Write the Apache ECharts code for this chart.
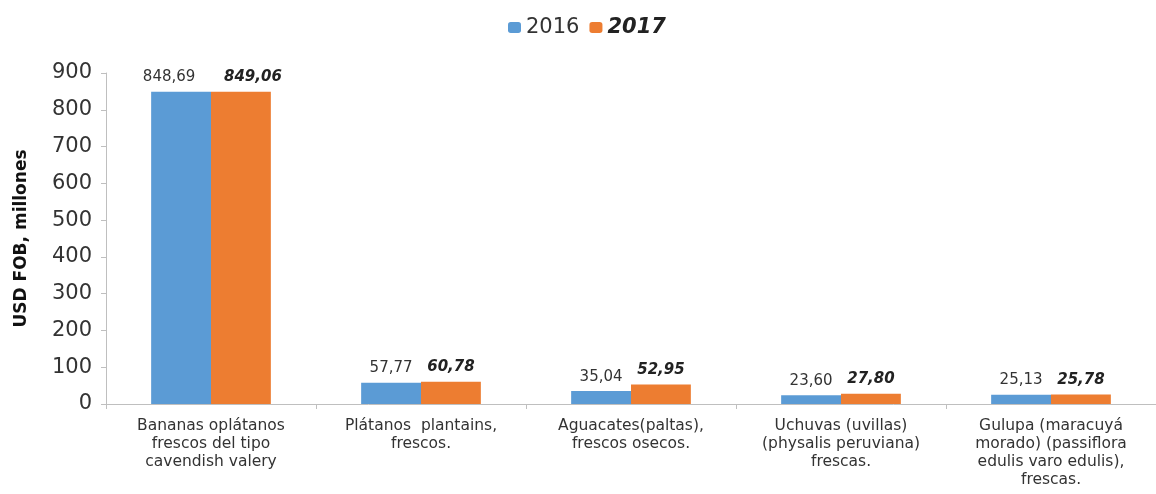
<!DOCTYPE html>
<html>
<head>
<meta charset="utf-8">
<script src="https://cdn.jsdelivr.net/npm/echarts@6/dist/echarts.min.js"></script>
<style>html,body{margin:0;padding:0;background:#fff;}#c{width:1156px;height:494px;}</style>
</head>
<body>
<div id="c"></div>
<script>
var categories = [
  "Bananas oplátanos\nfrescos del tipo\ncavendish valery",
  "Plátanos  plantains,\nfrescos.",
  "Aguacates(paltas),\nfrescos osecos.",
  "Uchuvas (uvillas)\n(physalis peruviana)\nfrescas.",
  "Gulupa (maracuyá\nmorado) (passiflora\nedulis varo edulis),\nfrescas."
];
var values2016 = [848.69, 57.77, 35.04, 23.60, 25.13];
var values2017 = [849.06, 60.78, 52.95, 27.80, 25.78];
var yTicks = [0, 100, 200, 300, 400, 500, 600, 700, 800, 900];

var fmt = function (p) { return p.value.toFixed(2).replace('.', ','); };
function withOffset(vals, dx) {
  return vals.map(function (v, i) {
    return i === 0 ? { value: v, label: { offset: [dx, 0] } } : v;
  });
}
var chart = echarts.init(document.getElementById('c'));
chart.setOption({
  animation: false,
  textStyle: { fontFamily: 'DejaVu Sans' },
  legend: {
    top: 12, left: 503, itemWidth: 13, itemHeight: 11, itemGap: 10,
    data: ['2016', '2017'],
    formatter: function (n) { return n === '2017' ? '{b|' + n + '}' : '{a|' + n + '}'; },
    textStyle: {
      rich: {
        a: { fontSize: 21, color: '#333', fontFamily: 'DejaVu Sans' },
        b: { fontSize: 21, color: '#222', fontWeight: 'bold', fontStyle: 'italic', fontFamily: 'DejaVu Sans' }
      }
    }
  },
  grid: { left: 106, top: 73, bottom: 90, width: 1058, containLabel: false },
  xAxis: {
    type: 'category', data: categories,
    axisLine: { lineStyle: { color: '#bfbfbf' } },
    axisTick: { show: true, length: 5, lineStyle: { color: '#bfbfbf' } },
    axisLabel: { interval: 0, fontSize: 15.5, color: '#333', lineHeight: 18, margin: 13, fontFamily: 'DejaVu Sans' }
  },
  yAxis: {
    type: 'value', min: 0, max: 900, interval: 100,
    name: 'USD FOB, millones', nameLocation: 'middle', nameGap: 76, nameRotate: 90,
    nameTextStyle: { fontSize: 17, fontWeight: 'bold', color: '#111', fontFamily: 'DejaVu Sans' },
    splitLine: { show: false },
    axisLine: { show: true, lineStyle: { color: '#bfbfbf' } },
    axisTick: { show: true, length: 5, lineStyle: { color: '#bfbfbf' } },
    axisLabel: { fontSize: 21, color: '#333', margin: 14, fontFamily: 'DejaVu Sans' }
  },
  series: [
    {
      name: '2016', type: 'bar', data: withOffset(values2016, -12), barGap: '0%', barCategoryGap: '43%',
      itemStyle: { color: '#5B9BD5' },
      label: { show: true, position: 'top', formatter: fmt, fontSize: 15, color: '#333', distance: 7 }
    },
    {
      name: '2017', type: 'bar', data: withOffset(values2017, 12),
      itemStyle: { color: '#ED7D31' },
      label: { show: true, position: 'top', formatter: fmt, fontSize: 15, color: '#222', fontWeight: 'bold', fontStyle: 'italic', distance: 7 }
    }
  ]
});
</script>
</body>
</html>
